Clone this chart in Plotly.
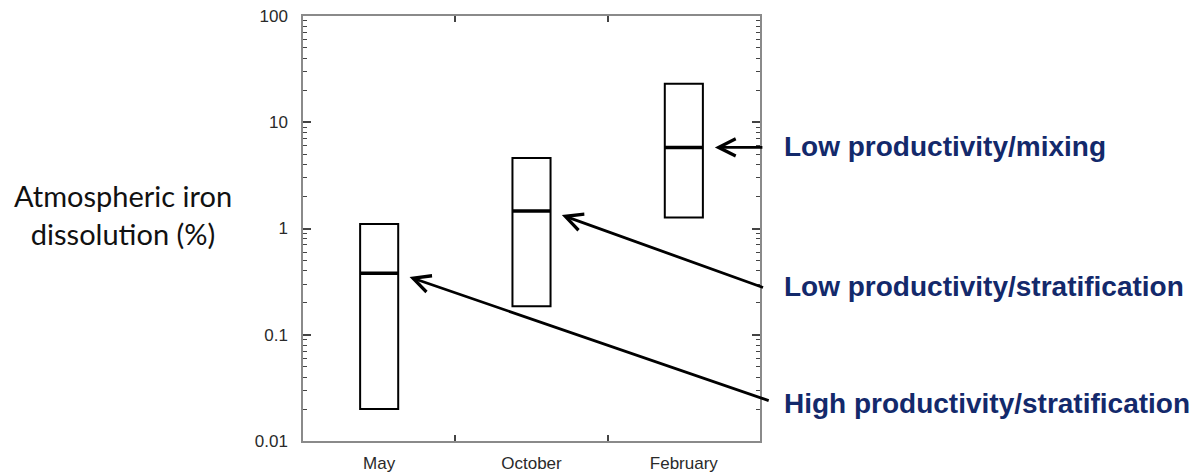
import numpy as np
import plotly.graph_objects as go

# ---- data ----
months = ["May", "October", "February"]
q_low = [0.02, 0.185, 1.27]
q_med = [0.38, 1.46, 5.8]
q_high = [1.1, 4.6, 23.0]
labels = ["High productivity/stratification",
          "Low productivity/stratification",
          "Low productivity/mixing"]
ytick_vals = [0.01, 0.1, 1, 10, 100]
ytick_text = ["0.01", "0.1", "1", "10", "100"]

# the page body adds an 8px offset; figure sized to fit the window
OFF = 8
W, H = 1202 - OFF, 472 - OFF
ML, MT = 303 - OFF, 16 - OFF
MR, MB = W - (760 - OFF), H - (441 - OFF)
PW, PH = W - ML - MR, H - MT - MB
box_w = 0.25


def px_x(page_x):
    return (page_x - OFF - ML) / PW


def px_y(page_y):
    return (H - MB - (page_y - OFF)) / PH


fig = go.Figure()
for i, m in enumerate(months):
    fig.add_trace(go.Box(
        x=[m], q1=[q_low[i]], median=[q_med[i]], q3=[q_high[i]],
        lowerfence=[q_low[i]], upperfence=[q_high[i]],
        width=box_w, whiskerwidth=0, boxpoints=False,
        line=dict(color="black", width=2), fillcolor="white",
        showlegend=False, hoverinfo="skip"))
    # thicker median line
    fig.add_trace(go.Scatter(
        x=[i - box_w / 2, i + box_w / 2], y=[q_med[i], q_med[i]],
        xaxis="x2", mode="lines", line=dict(color="black", width=3.5),
        showlegend=False, hoverinfo="skip"))

axis_line = "#8a8a8a"
tick_col = "#444444"
tick_font = dict(family="Liberation Sans, Arial", size=17, color="#2a2a2a")
fig.update_layout(
    width=W, height=H,
    margin=dict(l=ML, r=MR, t=MT, b=MB, pad=0, autoexpand=False),
    paper_bgcolor="white", plot_bgcolor="white",
    showlegend=False,
    xaxis=dict(type="category", categoryorder="array", categoryarray=months,
               range=[-0.5, 2.5], showline=True, linecolor=axis_line, linewidth=1.5,
               mirror="ticks", ticks="inside", ticklen=6, tickwidth=1.5,
               tickcolor=tick_col, tickson="boundaries", showgrid=False,
               zeroline=False, ticklabelstandoff=6, tickfont=tick_font,
               ticklabeloverflow="allow"),
    xaxis2=dict(overlaying="x", range=[-0.5, 2.5], visible=False, showgrid=False,
                zeroline=False),
    yaxis=dict(type="log", range=[-2, 2], tickvals=ytick_vals, ticktext=ytick_text,
               showline=True, linecolor=axis_line, linewidth=1.5, mirror="ticks",
               ticks="inside", ticklen=8, tickwidth=1.5, tickcolor=tick_col,
               minor=dict(ticks="inside", ticklen=4, tickwidth=1.2,
                          tickcolor=tick_col, dtick="D1", showgrid=False),
               showgrid=False, zeroline=False, ticklabelstandoff=10,
               tickfont=tick_font, ticklabeloverflow="allow"),
)

# arrows: tail pixel offsets from the box edge at the median
tails = [(372, 128), (214, 77), (61, 0)]
for i in range(3):
    fig.add_annotation(
        x=i + box_w / 2, y=np.log10(q_med[i]), xref="x2", yref="y",
        ax=tails[i][0], ay=tails[i][1], axref="pixel", ayref="pixel",
        text="", showarrow=True, arrowhead=5, arrowsize=1.2, arrowwidth=2.8,
        arrowcolor="black", standoff=12)

# text labels
label_page_y = [403, 286, 146]
for i in range(3):
    fig.add_annotation(
        x=px_x(782), y=px_y(label_page_y[i]), xref="paper", yref="paper",
        xanchor="left", yanchor="middle", showarrow=False, text=labels[i],
        font=dict(family="Liberation Sans, Arial", size=28, color="#13296b",
                  weight="bold"))

# y-axis title
fig.add_annotation(
    x=px_x(123), y=px_y(214), xref="paper", yref="paper",
    xanchor="center", yanchor="middle", showarrow=False, align="center",
    text="Atmospheric iron<br>dissolution (%)",
    font=dict(family="Lato", size=29, color="#111111"))

fig.write_html("out.html")
